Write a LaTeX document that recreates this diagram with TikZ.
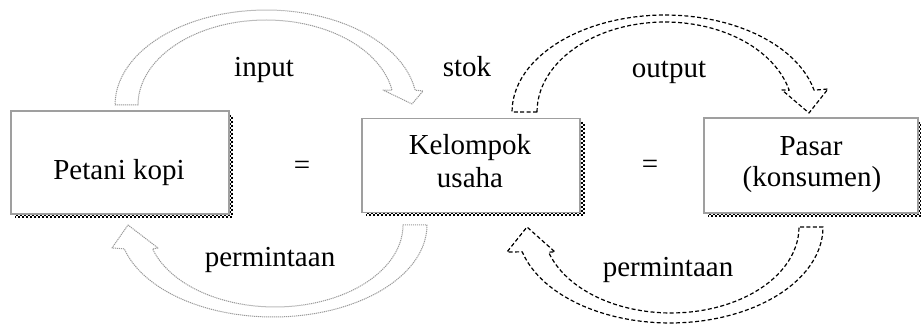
\documentclass[tikz,border=0pt]{standalone}
\usepackage{fontspec}
\setmainfont{Liberation Serif}
\begin{document}
\begin{tikzpicture}[x=0.5pt,y=-0.5pt,
  box/.style={draw=gray!75,line width=0.6pt,fill=white,rectangle,inner sep=0pt},
  lbl/.style={font=\fontsize{14.5}{17}\selectfont,anchor=base,inner sep=0pt},
  shA/.style={line width=1pt,dash pattern=on 1pt off 1pt},
  shB/.style={line width=1pt,dash pattern=on 1pt off 1pt,dash phase=1pt},
  dotarrow/.style={draw=gray!80,line width=0.5pt,dash pattern=on 0.6pt off 0.4pt,line join=round},
  dasharrow/.style={draw=black,line width=0.6pt,dash pattern=on 2pt off 1.2pt,line join=round}]
\useasboundingbox (0,0) rectangle (921,325);
% shadows
\draw[shA] (230,115) -- (230,215) -- (15,215);
\draw[shB] (232,115) -- (232,217) -- (15,217);
\draw[shA] (582,122) -- (582,213) -- (366,213);
\draw[shB] (584,122) -- (584,215) -- (366,215);
\draw[shA] (919,122) -- (919,214) -- (708,214);
\draw[shB] (921,122) -- (921,216) -- (708,216);
% boxes
\node[box,minimum width=109pt,minimum height=51.5pt] (petani) at (120,162.5) {};
\node[box,minimum width=109pt,minimum height=47pt] (kelompok) at (471,165.5) {};
\node[box,minimum width=107pt,minimum height=47.5pt] (pasar) at (811,165.5) {};
% box texts
\node[lbl] (tpetani) at (119,180) {Petani kopi};
\node[lbl] (tkel1) at (470,155) {Kelompok};
\node[lbl] (tkel2) at (470,188) {usaha};
\node[lbl] (tpas1) at (811,156) {Pasar};
\node[lbl] (tpas2) at (812,187) {(konsumen)};
\node[lbl] (eq1) at (302,175) {=};
\node[lbl] (eq2) at (650,174) {=};
% arrow labels
\node[lbl] (tinput) at (264,77) {input};
\node[lbl] (tstok) at (467,77) {stok};
\node[lbl] (toutput) at (669,78) {output};
\node[lbl] (tperm1) at (270,267) {permintaan};
\node[lbl] (tperm2) at (668,277) {permintaan};
% top-left block arrow (input)
\draw[dotarrow] (138,105) -- (115,105)
  -- plot[domain=180:9,samples=50] ({266+151*cos(\x)},{105-95*sin(\x)})
  -- (423,91) -- (412,104) -- (383,90)
  -- plot[domain=10:180,samples=50] ({266+128*cos(\x)},{105-85*sin(\x)}) -- cycle;
% top-right block arrow (output)
\draw[dasharrow] (537,112) -- (512,112)
  -- plot[domain=180:13,samples=50] ({665+153*cos(\x)},{112-97*sin(\x)})
  -- (828,89) -- (809,113) -- (782,90)
  -- plot[domain=14:180,samples=50] ({665+128*cos(\x)},{112-90*sin(\x)}) -- cycle;
% bottom-left block arrow (permintaan)
\draw[dotarrow] (403,225) -- (427,225)
  -- plot[domain=0:165,samples=50] ({273+154*cos(\x)},{225+92*sin(\x)})
  -- (112,248) -- (128,225) -- (158,248)
  -- plot[domain=163:0,samples=50] ({275+128*cos(\x)},{225+82*sin(\x)}) -- cycle;
% bottom-right block arrow (permintaan)
\draw[dasharrow] (800,227) -- (823,227)
  -- plot[domain=0:165,samples=50] ({670+153*cos(\x)},{227+96*sin(\x)})
  -- (507,252) -- (527,227) -- (555,252)
  -- plot[domain=163:0,samples=50] ({671+128*cos(\x)},{227+86*sin(\x)}) -- cycle;
\end{tikzpicture}
\end{document}
